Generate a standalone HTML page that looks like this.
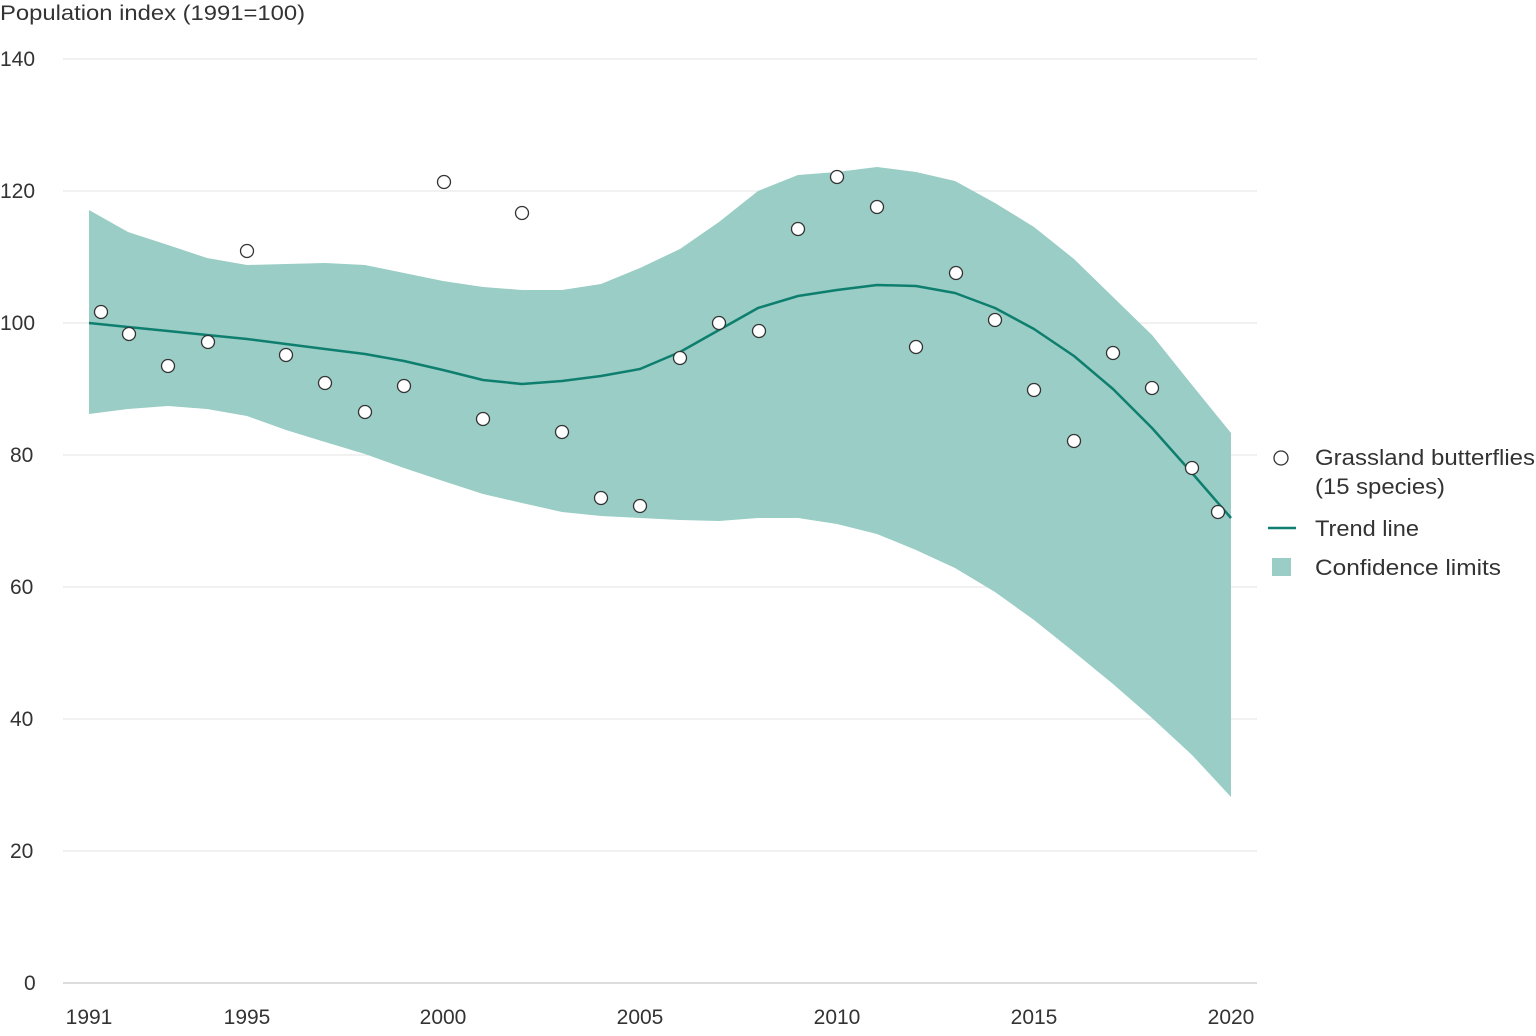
<!DOCTYPE html>
<html><head><meta charset="utf-8"><style>
body{margin:0;background:#fff;}
svg text{font-family:"Liberation Sans",sans-serif;fill:#333;}
</style></head><body>
<svg width="1536" height="1031" viewBox="0 0 1536 1031" xmlns="http://www.w3.org/2000/svg">
<g stroke="#e3e3e3" stroke-width="1">
<line x1="63" y1="59" x2="1257" y2="59"/><line x1="63" y1="191" x2="1257" y2="191"/>
<line x1="63" y1="323" x2="1257" y2="323"/><line x1="63" y1="455" x2="1257" y2="455"/>
<line x1="63" y1="587" x2="1257" y2="587"/><line x1="63" y1="719" x2="1257" y2="719"/>
<line x1="63" y1="851" x2="1257" y2="851"/>
</g>
<line x1="63" y1="983" x2="1257" y2="983" stroke="#bbb" stroke-width="1"/>
<g font-size="21">
<text x="0" y="20" textLength="305" lengthAdjust="spacingAndGlyphs">Population index (1991=100)</text>
<text x="0" y="66">140</text><text x="0" y="198">120</text><text x="0" y="330">100</text>
<text x="10" y="462">80</text><text x="10" y="594">60</text><text x="10" y="726">40</text>
<text x="10" y="858">20</text><text x="24" y="990">0</text>
</g>
<g font-size="21" text-anchor="middle">
<text x="89" y="1024">1991</text><text x="247" y="1024">1995</text><text x="443" y="1024">2000</text>
<text x="640" y="1024">2005</text><text x="837" y="1024">2010</text><text x="1034" y="1024">2015</text><text x="1231" y="1024">2020</text>
</g>
<polygon fill="#99cdc5" points="89,210 128,232 168,245 207,258 247,265 286,264 325,263 365,265 404,273 443,281 483,287 522,290 562,290 601,284 640,268 680,249 719,222 758,191 798,175 837,172 877,167 916,172 955,181 995,203 1034,227 1074,259 1113,297 1152,335 1192,385 1231,433 1231,797 1192,755 1152,718 1113,684 1074,652 1034,620 995,592 955,568 916,550 877,534 837,524 798,518 758,518 719,521 680,520 640,518 601,516 562,512 522,503 483,494 443,481 404,468 365,454 325,442 286,430 247,416 207,409 168,406 128,409 89,414"/>
<polyline fill="none" stroke="#0e7f6f" stroke-width="2.5" stroke-linejoin="round" points="89,323 128,327 168,331 207,335 247,339 286,344 325,349 365,354 404,361 443,370 483,380 522,384 562,381 601,376 640,369 680,352 719,330 758,308 798,296 837,290 877,285 916,286 955,293 995,308 1034,329 1074,356 1113,389 1152,428 1192,473 1231,518"/>
<g fill="#fff" stroke="#333" stroke-width="1.3">
<circle cx="101" cy="312" r="6.5"/><circle cx="129" cy="334" r="6.5"/><circle cx="168" cy="366" r="6.5"/><circle cx="208" cy="342" r="6.5"/><circle cx="247" cy="251" r="6.5"/><circle cx="286" cy="355" r="6.5"/><circle cx="325" cy="383" r="6.5"/><circle cx="365" cy="412" r="6.5"/><circle cx="404" cy="386" r="6.5"/><circle cx="444" cy="182" r="6.5"/><circle cx="483" cy="419" r="6.5"/><circle cx="522" cy="213" r="6.5"/><circle cx="562" cy="432" r="6.5"/><circle cx="601" cy="498" r="6.5"/><circle cx="640" cy="506" r="6.5"/><circle cx="680" cy="358" r="6.5"/><circle cx="719" cy="323" r="6.5"/><circle cx="759" cy="331" r="6.5"/><circle cx="798" cy="229" r="6.5"/><circle cx="837" cy="177" r="6.5"/><circle cx="877" cy="207" r="6.5"/><circle cx="916" cy="347" r="6.5"/><circle cx="956" cy="273" r="6.5"/><circle cx="995" cy="320" r="6.5"/><circle cx="1034" cy="390" r="6.5"/><circle cx="1074" cy="441" r="6.5"/><circle cx="1113" cy="353" r="6.5"/><circle cx="1152" cy="388" r="6.5"/><circle cx="1192" cy="468" r="6.5"/><circle cx="1218" cy="512" r="6.5"/>
<circle cx="1281" cy="458" r="7"/>
</g>
<line x1="1268" y1="528" x2="1296" y2="528" stroke="#0e7f6f" stroke-width="2.5"/>
<rect x="1272" y="558" width="19" height="18" fill="#99cdc5"/>
<g font-size="22">
<text x="1315" y="465" textLength="220" lengthAdjust="spacingAndGlyphs">Grassland butterflies</text>
<text x="1315" y="494" textLength="130" lengthAdjust="spacingAndGlyphs">(15 species)</text>
<text x="1315" y="536" textLength="104" lengthAdjust="spacingAndGlyphs">Trend line</text>
<text x="1315" y="575" textLength="186" lengthAdjust="spacingAndGlyphs">Confidence limits</text>
</g>
</svg>
</body></html>
